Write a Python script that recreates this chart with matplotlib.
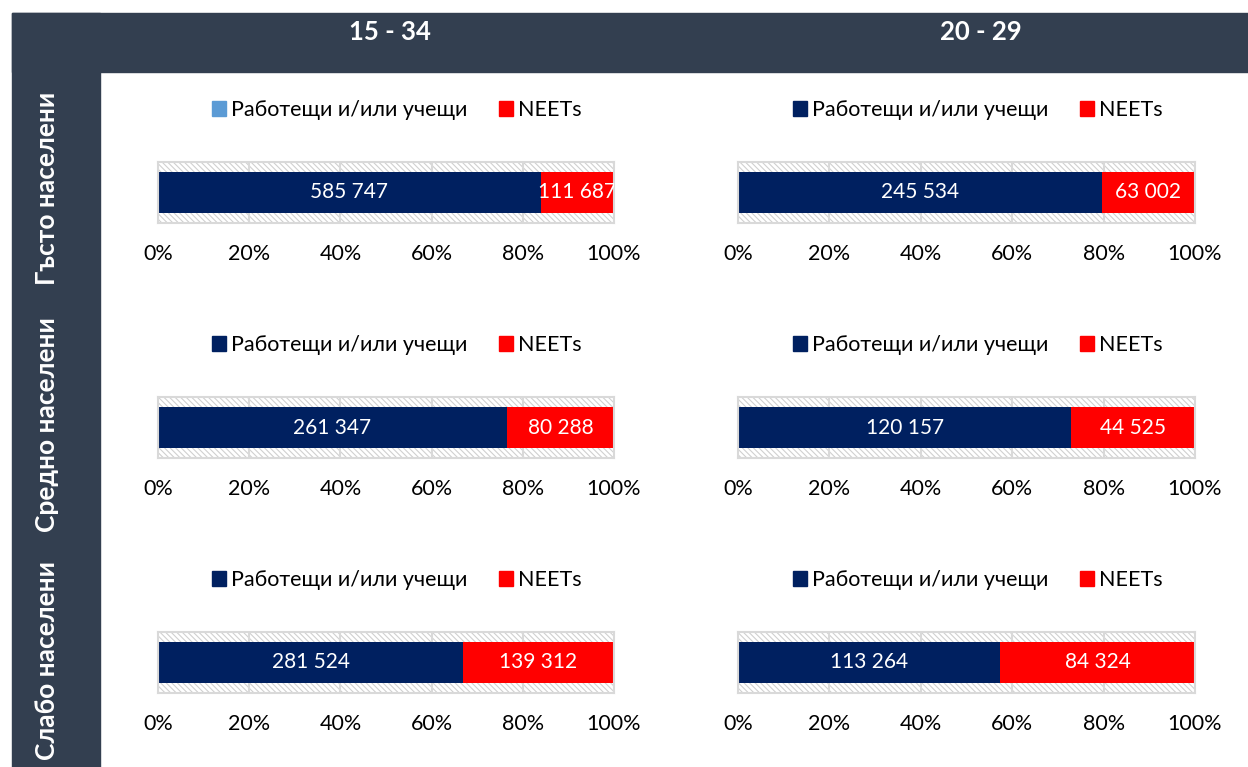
import matplotlib
matplotlib.use("Agg")
import matplotlib.pyplot as plt
from matplotlib.patches import Rectangle, Patch

plt.rcParams['font.family'] = ['Lato', 'Noto Sans', 'DejaVu Sans']
plt.rcParams['hatch.linewidth'] = 0.8
plt.rcParams['hatch.color'] = '#d0d0d0'

# Данни
age_groups = ['15 - 34', '20 - 29']
density = ['Гъсто населени', 'Средно населени', 'Слабо населени']
series_names = ['Работещи и/или учещи', 'NEETs']
working_15_34 = [585747, 261347, 281524]
neets_15_34 = [111687, 80288, 139312]
working_20_29 = [245534, 120157, 113264]
neets_20_29 = [63002, 44525, 84324]
ticks = [0, 20, 40, 60, 80, 100]
tick_labels = ['0%', '20%', '40%', '60%', '80%', '100%']

navy = '#002060'
red = '#ff0000'
dark = '#333f50'
grid_col = '#d9d9d9'

W, H = 1248, 767
fig = plt.figure(figsize=(W / 100, H / 100), dpi=100)

# тъмни ленти (заглавие и редове)
fig.patches.append(Rectangle((12 / W, 1 - 72 / H), 1 - 12 / W, 59 / H,
                             transform=fig.transFigure, color=dark, zorder=0))
fig.patches.append(Rectangle((12 / W, 0), 88 / W, 1 - 13 / H,
                             transform=fig.transFigure, color=dark, zorder=0))

fig.text(390 / W, 1 - 32 / H, age_groups[0], color='white', fontsize=18.5,
         fontweight='bold', ha='center', va='center')
fig.text(981 / W, 1 - 32 / H, age_groups[1], color='white', fontsize=18.5,
         fontweight='bold', ha='center', va='center')

row_centers = [188, 425, 660]
for name, yc in zip(density, row_centers):
    fig.text(47 / W, 1 - yc / H, name, color='white', fontsize=19,
             fontweight='bold', rotation=90, ha='center', va='center')

data = [[working_15_34, neets_15_34], [working_20_29, neets_20_29]]
col_x = [(158, 614), (738, 1195)]
row_top = [162, 397, 632]
legend_x = [397, 978]
legend_first_color = [['#5b9bd5', navy, navy], [navy, navy, navy]]

for c in range(2):
    work, neet = data[c]
    x0, x1 = col_x[c]
    for r in range(3):
        top = row_top[r]
        ax = fig.add_axes([x0 / W, 1 - (top + 61) / H, (x1 - x0) / W, 61 / H])
        total = work[r] + neet[r]
        pw = work[r] / total * 100
        pn = neet[r] / total * 100

        # фон с щриховка
        ax.add_patch(Rectangle((0, -0.5), 100, 1, facecolor='white',
                               edgecolor='#d0d0d0', hatch='\\\\\\\\\\\\', lw=0, zorder=0))
        for t in ticks[1:-1]:
            ax.axvline(t, color=grid_col, lw=1.5, zorder=1)

        ax.barh(0, pw, height=0.656, color=navy, zorder=2)
        ax.barh(0, pn, left=pw, height=0.656, color=red, zorder=2)
        ax.text(pw / 2, 0, f"{work[r]:,}".replace(',', ' '), color='white',
                fontsize=15, ha='center', va='center', zorder=3)
        ax.text(pw + pn / 2, 0, f"{neet[r]:,}".replace(',', ' '), color='white',
                fontsize=15, ha='center', va='center', zorder=3, clip_on=True)

        ax.set_xlim(0, 100)
        ax.set_ylim(-0.5, 0.5)
        ax.set_yticks([])
        ax.set_xticks(ticks)
        ax.set_xticklabels(tick_labels, fontsize=15.5)
        ax.tick_params(axis='x', length=0, pad=15)
        for s in ax.spines.values():
            s.set_color(grid_col)
            s.set_linewidth(1.5)

        handles = [Patch(color=legend_first_color[c][r]), Patch(color=red)]
        ax.legend(handles, series_names, loc='center', ncol=2, frameon=False,
                  bbox_to_anchor=(legend_x[c] / W, 1 - (top - 52) / H),
                  bbox_transform=fig.transFigure, fontsize=15.5,
                  handlelength=0.65, handleheight=0.65, handletextpad=0.25,
                  columnspacing=1.45)

fig.savefig('out.png', dpi=100)
